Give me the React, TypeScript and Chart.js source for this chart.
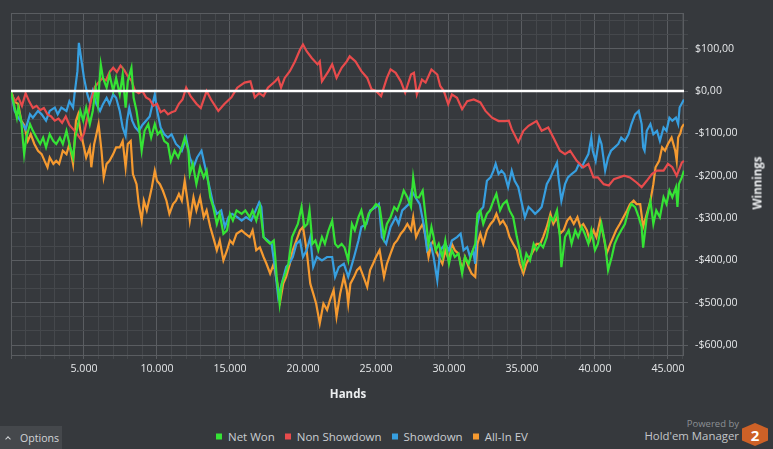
import React, { useEffect, useRef } from 'react';
import { Chart, registerables } from 'chart.js';

Chart.register(...registerables);

// [hands, winnings $]
const netWon: [number, number][] = [
  [0, 0], [250, -39], [400, -63], [500, -39], [700, -70], [900, -149], [1050, -110], [1300, -78], [1500, -94],
  [1750, -110], [2000, -125], [2200, -110], [2400, -133], [2650, -102], [2900, -118], [3100, -125], [3350, -110],
  [3550, -125], [3800, -94], [4000, -125], [4250, -157], [4400, -110], [4600, -78], [4750, -47], [4950, -70],
  [5150, -39], [5400, -78], [5600, -47], [5800, 8], [5950, -31], [6150, 63], [6300, 31], [6550, 8], [6750, 39],
  [7000, 0], [7200, 31], [7450, -8], [7650, 39], [7850, -39], [8000, 23], [8250, 55], [8400, -16], [8600, -47],
  [8800, -94], [8950, -141], [9150, -94], [9400, -78], [9600, -110], [9850, -78], [10050, -102], [10250, -94],
  [10500, -118], [10750, -125], [10950, -165], [11200, -141], [11450, -157], [11700, -133], [11900, -110],
  [12150, -141], [12250, -196], [12450, -172], [12700, -220], [12950, -180], [13200, -204], [13400, -188],
  [13650, -251], [13850, -274], [14100, -314], [14300, -290], [14550, -337], [14800, -329], [15000, -290],
  [15200, -306], [15450, -282], [15800, -290], [16050, -282], [16350, -298], [16550, -282], [16800, -306],
  [17050, -274], [17300, -345], [17500, -353], [17750, -361], [18000, -353], [18100, -392], [18200, -439],
  [18400, -502], [18550, -455], [18800, -431], [19000, -408], [19250, -345], [19450, -329], [19650, -314],
  [19900, -274], [20100, -321], [20300, -314], [20450, -282], [20650, -361], [20850, -353], [21050, -376],
  [21300, -345], [21500, -361], [21750, -329], [22000, -306], [22200, -361], [22400, -369], [22650, -361],
  [22850, -370], [23100, -400], [23350, -314], [23550, -329], [23800, -298], [24000, -282], [24250, -321],
  [24500, -290], [24850, -274], [25000, -267], [25250, -274], [25550, -345], [25750, -314], [26000, -298],
  [26250, -274], [26450, -282], [26700, -259], [26900, -235], [27150, -251], [27400, -274], [27550, -204],
  [27750, -251], [27950, -251], [28200, -235], [28400, -298], [28600, -361], [28800, -321], [28950, -345],
  [29100, -376], [29300, -361], [29550, -392], [29750, -353], [30000, -408], [30200, -376], [30400, -392],
  [30650, -384], [30900, -431], [31100, -392], [31350, -408], [31550, -384], [31800, -361], [31950, -290],
  [32150, -282], [32350, -314], [32600, -290], [32800, -282], [33050, -259], [33250, -243], [33500, -282],
  [33700, -267], [33950, -259], [34150, -282], [34400, -298], [34650, -345], [34850, -376], [35100, -416],
  [35300, -384], [35550, -400], [35800, -361], [36000, -376], [36250, -361], [36450, -369], [36700, -345],
  [36950, -298], [37150, -306], [37400, -282], [37600, -345], [37700, -416], [37950, -345], [38200, -329],
  [38400, -361], [38650, -329], [38850, -345], [39100, -321], [39300, -337], [39550, -361], [39750, -329],
  [40000, -376], [40200, -361], [40450, -314], [40700, -361], [40900, -423], [41150, -392], [41350, -361],
  [41550, -345], [41800, -329], [42050, -314], [42300, -282], [42500, -267], [42750, -274], [43000, -298],
  [43200, -321], [43300, -370], [43550, -298], [43800, -259], [44000, -314], [44200, -282], [44450, -298],
  [44700, -251], [44900, -267], [45100, -235], [45300, -251], [45550, -227], [45650, -274], [45750, -220],
  [45950, -204], [46100, -188],
];

const nonShowdown: [number, number][] = [
  [0, 0], [250, -25], [500, -15], [750, -35], [1000, -5], [1250, -25], [1500, -40], [1750, -35], [2000, -45],
  [2250, -40], [2500, -55], [2750, -60], [3000, -70], [3250, -65], [3500, -75], [3750, -60], [4000, -80],
  [4250, -90], [4500, -100], [4800, -115], [5000, -100], [5250, -60], [5500, -20], [5750, 10], [6000, 20],
  [6250, 30], [6500, 25], [6750, 45], [7000, 55], [7250, 45], [7500, 60], [7750, 50], [8000, 35], [8250, 25],
  [8500, 0], [8750, -5], [9000, 0], [9250, -15], [9500, -20], [9750, -35], [10000, -30], [10250, -50],
  [10500, -45], [10750, -55], [11000, -50], [11250, -47], [11500, -30], [11750, -20], [12000, 8], [12300, -12],
  [12700, -30], [13000, -40], [13400, 0], [13700, -20], [14200, -47], [14600, -31], [15100, -15], [15500, 8],
  [16000, 20], [16400, 23], [16700, -15], [17000, -5], [17300, -12], [17600, 8], [18100, 23], [18300, 31],
  [18500, 8], [18750, 31], [19100, 47], [19450, 70], [19800, 98], [20000, 110], [20250, 94], [20600, 78],
  [21000, 63], [21150, 70], [21300, 23], [21750, 47], [22000, 63], [22300, 31], [22650, 55], [23000, 70],
  [23200, 82], [23600, 70], [24000, 47], [24400, 31], [24700, 4], [25000, 0], [25350, -12], [25750, 31],
  [26000, 51], [26350, 43], [26700, 23], [27000, -4], [27400, 39], [27600, 43], [27800, -8], [28150, 27],
  [28400, 20], [28800, 51], [29200, 39], [29400, 12], [29650, 0], [29950, -31], [30200, -8], [30550, -16],
  [30900, -43], [31250, -24], [31700, -20], [32150, -27], [32500, -47], [32950, -63], [33400, -71],
  [33850, -71], [34100, -70], [34300, -90], [34750, -121], [35100, -94], [35450, -82], [36000, -71],
  [36350, -94], [36800, -86], [37150, -110], [37600, -141], [37950, -149], [38300, -141], [38750, -165],
  [39200, -180], [39550, -172], [39900, -204], [40200, -204], [40600, -220], [40950, -223], [41300, -208],
  [42000, -200], [42400, -204], [42850, -216], [43200, -227], [43550, -212], [43900, -196], [44250, -188],
  [44700, -188], [45000, -172], [45300, -180], [45600, -200], [45950, -169], [46100, -165],
];

const showdown: [number, number][] = [
  [0, 0], [250, -47], [500, -63], [800, -78], [1000, -90], [1300, -55], [1500, -63], [1850, -47], [2100, -55],
  [2400, -70], [2650, -47], [3000, -39], [3200, -55], [3450, -39], [3800, -47], [4000, -24], [4250, -39],
  [4350, -8], [4550, 47], [4650, 114], [4800, 78], [5000, 31], [5230, -8], [5400, -27], [5600, 0], [5850, -31],
  [6100, -47], [6300, -31], [6550, -16], [6750, -31], [7000, -8], [7200, -16], [7450, -47], [7650, -86],
  [7850, -106], [7950, -70], [8100, -40], [8300, -70], [8500, -85], [8750, -95], [9000, -80], [9250, -70],
  [9500, -60], [9700, -30], [9850, -8], [10000, -45], [10250, -86], [10500, -102], [10750, -110], [11000, -102],
  [11300, -125], [11550, -133], [11700, -141], [12000, -110], [12250, -157], [12500, -180], [12750, -157],
  [13050, -141], [13300, -180], [13500, -212], [13850, -267], [14100, -290], [14400, -282], [14650, -321],
  [14900, -298], [15150, -290], [15500, -298], [15800, -306], [16100, -298], [16450, -306], [17000, -263],
  [17150, -274], [17300, -345], [17600, -353], [17850, -361], [18100, -423], [18300, -486], [18550, -455],
  [18850, -415], [19050, -408], [19300, -392], [19550, -361], [19800, -353], [20000, -392], [20250, -376],
  [20500, -345], [20700, -415], [20950, -392], [21300, -400], [21650, -392], [22000, -392], [22200, -439],
  [22450, -416], [22800, -408], [23100, -439], [23300, -416], [23500, -392], [23800, -353], [24000, -321],
  [24350, -314], [24600, -282], [25000, -274], [25200, -267], [25400, -345], [25700, -361], [26000, -321],
  [26350, -298], [26550, -314], [26800, -282], [27250, -267], [27450, -235], [27700, -251], [28000, -267],
  [28300, -321], [28500, -376], [28750, -361], [28950, -392], [29200, -447], [29400, -376], [29750, -361],
  [30000, -376], [30200, -353], [30550, -345], [30800, -337], [31000, -376], [31250, -369], [31450, -392],
  [31650, -376], [31800, -408], [31900, -321], [32150, -282], [32350, -274], [32600, -212], [32850, -204],
  [33050, -188], [33200, -172], [33400, -196], [33600, -188], [33800, -196], [34050, -227], [34300, -188],
  [34500, -212], [34750, -227], [35000, -267], [35200, -298], [35450, -274], [35700, -282], [35900, -290],
  [36150, -282], [36350, -274], [36450, -259], [36700, -220], [36950, -204], [37150, -188], [37400, -169],
  [37500, -204], [37700, -259], [37950, -220], [38150, -204], [38400, -196], [38700, -188], [38900, -172],
  [39100, -180], [39300, -165], [39550, -149], [39750, -110], [39850, -141], [40050, -165], [40300, -110],
  [40450, -125], [40700, -188], [40900, -157], [41100, -141], [41350, -133], [41600, -125], [41800, -110],
  [42050, -118], [42300, -102], [42500, -78], [42750, -55], [43000, -47], [43200, -78], [43300, -133],
  [43400, -141], [43550, -94], [43800, -78], [44000, -102], [44250, -94], [44450, -118], [44700, -86],
  [44900, -94], [45100, -63], [45300, -70], [45550, -63], [45700, -78], [45800, -39], [46100, -20],
];

const allInEv: [number, number][] = [
  [0, 0], [250, -25], [500, -31], [700, -70], [900, -80], [1150, -118], [1350, -102], [1600, -125], [1850, -141],
  [2100, -149], [2300, -165], [2500, -180], [2650, -157], [2900, -172], [3100, -165], [3300, -172], [3550, -141],
  [3800, -149], [4000, -125], [4250, -172], [4450, -70], [4600, -55], [4750, -94], [4950, -125], [5150, -157],
  [5400, -133], [5500, -180], [5700, -125], [5850, -102], [6000, -78], [6200, -141], [6350, -204], [6550, -172],
  [6750, -165], [7000, -149], [7200, -133], [7450, -133], [7650, -118], [7850, -180], [8000, -125], [8200, -118],
  [8350, -196], [8600, -220], [8750, -267], [8950, -306], [9100, -259], [9300, -282], [9500, -251], [9650, -227],
  [9850, -188], [10000, -212], [10200, -220], [10400, -235], [10650, -259], [10850, -290], [11100, -267],
  [11300, -259], [11500, -243], [11700, -259], [11900, -212], [12150, -274], [12250, -306], [12500, -251],
  [12700, -282], [12950, -251], [13200, -298], [13400, -282], [13650, -321], [13850, -345], [14100, -376],
  [14300, -353], [14550, -400], [14800, -376], [15000, -353], [15200, -361], [15450, -337], [15800, -329],
  [16050, -337], [16350, -345], [16550, -329], [16800, -376], [17050, -369], [17300, -392], [17500, -408],
  [17750, -431], [18000, -408], [18200, -447], [18450, -494], [18650, -455], [18850, -439], [19100, -408],
  [19300, -376], [19550, -353], [19800, -329], [20000, -321], [20250, -376], [20500, -455], [20700, -478],
  [20900, -502], [21150, -549], [21400, -502], [21650, -517], [21850, -494], [22100, -470], [22300, -533],
  [22550, -478], [22800, -439], [23000, -470], [23100, -502], [23250, -455], [23500, -439], [23700, -423],
  [23900, -416], [24150, -439], [24400, -463], [24600, -423], [24800, -408], [25000, -392], [25250, -376],
  [25550, -439], [25750, -408], [26000, -384], [26250, -361], [26450, -353], [26700, -337], [26900, -329],
  [27150, -314], [27400, -329], [27550, -298], [27750, -345], [27950, -329], [28200, -314], [28400, -345],
  [28600, -392], [28800, -361], [28950, -353], [29100, -376], [29300, -392], [29550, -408], [29750, -376],
  [30000, -400], [30200, -361], [30400, -376], [30650, -384], [30900, -423], [31100, -392], [31350, -416],
  [31550, -431], [31800, -439], [31950, -361], [32150, -337], [32350, -361], [32600, -329], [32850, -314],
  [33050, -306], [33250, -290], [33500, -314], [33700, -306], [33950, -321], [34150, -345], [34400, -361],
  [34650, -376], [34850, -408], [35100, -431], [35300, -408], [35550, -392], [35800, -376], [36000, -361],
  [36250, -361], [36450, -345], [36700, -321], [36950, -290], [37150, -314], [37400, -298], [37600, -337],
  [37850, -329], [38100, -306], [38300, -298], [38550, -314], [38800, -298], [39000, -321], [39200, -314],
  [39450, -329], [39650, -353], [39900, -329], [40100, -345], [40350, -306], [40600, -345], [40800, -384],
  [41050, -361], [41250, -345], [41450, -329], [41700, -314], [41950, -298], [42200, -282], [42400, -267],
  [42650, -259], [42850, -267], [43100, -267], [43300, -321], [43550, -290], [43800, -259], [44000, -220],
  [44150, -180], [44400, -165], [44600, -133], [44800, -141], [45000, -125], [45250, -110], [45500, -141],
  [45600, -165], [45700, -110], [45850, -100], [45950, -86], [46100, -78],
];

const seriesNames = ['Net Won', 'Non Showdown', 'Showdown', 'All-In EV'];
const seriesColors = ['#35e335', '#e84b4c', '#379fe0', '#f59a30'];
const seriesData = [netWon, nonShowdown, showdown, allInEv];

const handsMin = 0;
const handsMax = 46100;
const handsGridStep = 1000;
const handsLabelStep = 5000;
const winningsMin = -623.5;
const winningsMax = 183.5;
const winningsGridThirds = [-18, -17, -16, -15, -14, -13, -12, -11, -10, -9, -8, -7, -6, -5, -4, -3, -2, -1, 0, 1, 2, 3, 4, 5];

const BG = '#36393d';
const GRID_MINOR = '#45484c';
const GRID_MAJOR = '#5a5d61';
const FONT = "'Open Sans', 'Noto Sans', sans-serif";

function fmtHands(v: number): string {
  return String(v).replace(/\B(?=(\d{3})+(?!\d))/g, '.');
}
function fmtMoney(v: number): string {
  const a = Math.round(Math.abs(v));
  return (v < -0.5 ? '-$' : '$') + a + ',00';
}
function isHundred(v: number): boolean {
  return Math.abs(v / 100 - Math.round(v / 100)) < 1e-6;
}

const framePlugin = {
  id: 'frame',
  beforeDatasetsDraw(chart: any) {
    const { ctx, chartArea: a } = chart;
    ctx.save();
    ctx.strokeStyle = GRID_MAJOR;
    ctx.lineWidth = 1;
    ctx.strokeRect(Math.round(a.left) + 0.5, Math.round(a.top) + 0.5, Math.round(a.right - a.left) - 1, Math.round(a.bottom - a.top));
    ctx.restore();
  },
  afterDatasetsDraw(chart: any) {
    const { ctx, chartArea: a, scales } = chart;
    const y = scales.y.getPixelForValue(0);
    ctx.save();
    ctx.strokeStyle = '#ffffff';
    ctx.lineWidth = 2.5;
    ctx.beginPath();
    ctx.moveTo(a.left, y);
    ctx.lineTo(a.right, y);
    ctx.stroke();
    ctx.restore();
  },
};

function ChartCanvas() {
  const ref = useRef<HTMLCanvasElement | null>(null);
  useEffect(() => {
    if (!ref.current) return;
    const chart = new Chart(ref.current, {
      type: 'line',
      data: {
        datasets: seriesData.map((pts, i) => ({
          label: seriesNames[i],
          data: pts.map(([x, y]) => ({ x, y })),
          borderColor: seriesColors[i],
          backgroundColor: seriesColors[i],
          borderWidth: 2.2,
          pointRadius: 0,
          tension: 0,
          fill: false,
        })),
      },
      options: {
        animation: false,
        responsive: false,
        parsing: false as any,
        layout: { padding: { left: 11, top: 12, right: 0, bottom: 0 } },
        plugins: { legend: { display: false }, tooltip: { enabled: false } },
        scales: {
          x: {
            type: 'linear',
            min: handsMin,
            max: handsMax,
            afterBuildTicks: (s: any) => {
              const t = [];
              for (let v = handsMin; v <= handsMax; v += handsGridStep) t.push({ value: v });
              s.ticks = t;
            },
            afterFit: (s: any) => { s.height = 55; },
            ticks: {
              autoSkip: false,
              maxRotation: 0,
              padding: 4,
              color: '#e6e8ea',
              font: { family: FONT, size: 10.6 },
              callback: (v: any) => (v > 0 && v % handsLabelStep === 0 ? fmtHands(v) : ''),
            },
            grid: {
              color: (c: any) => (c.tick && c.tick.value % handsLabelStep === 0 ? GRID_MAJOR : GRID_MINOR),
              tickLength: 4,
            },
            border: { display: false },
          },
          y: {
            type: 'linear',
            position: 'right',
            min: winningsMin,
            max: winningsMax,
            afterBuildTicks: (s: any) => {
              s.ticks = winningsGridThirds.map((k) => ({ value: (k * 100) / 3 }));
            },
            afterFit: (s: any) => { s.width = 89; },
            ticks: {
              autoSkip: false,
              padding: 7,
              color: '#e6e8ea',
              font: { family: FONT, size: 10.6 },
              callback: (v: any) => (isHundred(v) ? fmtMoney(v) : ''),
            },
            grid: {
              color: (c: any) => (c.tick && isHundred(c.tick.value) ? GRID_MAJOR : GRID_MINOR),
              tickLength: 4,
            },
            border: { display: false },
          },
        },
      },
      plugins: [framePlugin],
    });
    return () => chart.destroy();
  }, []);
  return (
    <canvas
      ref={ref}
      width={773}
      height={410}
      style={{ position: 'absolute', left: 0, top: 0, width: 773, height: 410 }}
    />
  );
}

export default function App() {
  return (
    <div
      style={{
        position: 'fixed',
        left: 0,
        top: 0,
        width: 773,
        height: 449,
        background: BG,
        overflow: 'hidden',
        fontFamily: FONT,
      }}
    >
      <ChartCanvas />
      <div
        style={{
          position: 'absolute', left: 348, top: 393, transform: 'translate(-50%, -50%)',
          color: '#eceef0', fontWeight: 700, fontSize: 11.5, whiteSpace: 'nowrap',
        }}
      >
        Hands
      </div>
      <div
        style={{
          position: 'absolute', left: 757, top: 183, transform: 'translate(-50%, -50%) rotate(-90deg)',
          color: '#eceef0', fontWeight: 700, fontSize: 11.5, whiteSpace: 'nowrap',
        }}
      >
        Winnings
      </div>
      <div
        style={{
          position: 'absolute', left: 216, top: 436, transform: 'translateY(-50%)',
          display: 'flex', alignItems: 'center', whiteSpace: 'nowrap',
          color: '#c9cdd1', fontSize: 11.5,
        }}
      >
        {seriesNames.map((n, i) => (
          <div key={n} style={{ display: 'flex', alignItems: 'center', marginRight: 10 }}>
            <span style={{ width: 6, height: 6, background: seriesColors[i], marginRight: 6, display: 'inline-block' }} />
            <span>{n}</span>
          </div>
        ))}
      </div>
      <div
        style={{
          position: 'absolute', left: 0, top: 426, width: 62, height: 23, background: '#45484c',
          color: '#d2d5d8', fontSize: 10.6, display: 'flex', alignItems: 'center', whiteSpace: 'nowrap',
        }}
      >
        <span
          style={{
            display: 'inline-block', width: 3, height: 3, marginLeft: 6, marginRight: 10, marginTop: 2,
            borderTop: '1.3px solid #d2d5d8', borderLeft: '1.3px solid #d2d5d8', transform: 'rotate(45deg)',
          }}
        />
        <span>Options</span>
      </div>
      <div
        style={{
          position: 'absolute', right: 34, top: 423, transform: 'translateY(-50%)',
          color: '#8c9094', fontSize: 9.5, whiteSpace: 'nowrap',
        }}
      >
        Powered by
      </div>
      <div
        style={{
          position: 'absolute', right: 34, top: 435, transform: 'translateY(-50%)',
          color: '#c3c6c9', fontSize: 11.4, whiteSpace: 'nowrap',
        }}
      >
        Hold'em Manager
      </div>
      <div
        style={{
          position: 'absolute', left: 742, top: 423, width: 26, height: 23, background: '#cd6127',
          clipPath: 'polygon(50% 0, 100% 24%, 100% 76%, 50% 100%, 0 76%, 0 24%)',
          display: 'flex', alignItems: 'center', justifyContent: 'center',
          color: '#ffffff', fontWeight: 700, fontSize: 15,
        }}
      >
        2
      </div>
    </div>
  );
}
